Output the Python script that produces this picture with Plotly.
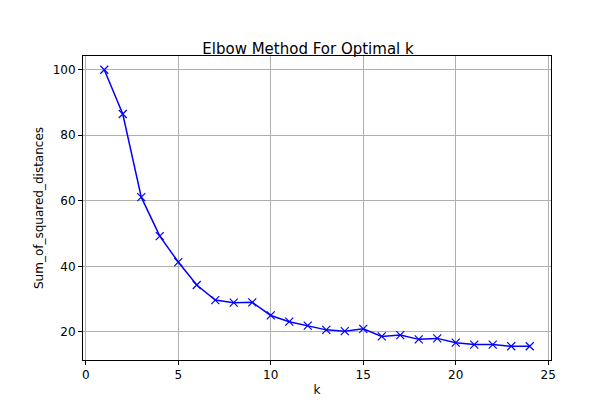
import plotly.graph_objects as go

k = list(range(1, 25))
ssd = [100, 86.5, 61.1, 49.2, 41.3, 34.3, 29.7, 28.9, 29.0, 25.0, 23.1, 21.9,
       20.6, 20.2, 20.9, 18.6, 19.0, 17.7, 18.0, 16.7, 16.1, 16.1, 15.6, 15.6]

fig = go.Figure(go.Scatter(x=k, y=ssd, mode="lines+markers",
                           line=dict(color="blue", width=1.5),
                           marker=dict(symbol="x-thin", size=8, line=dict(color="blue", width=1.2), color="blue")))
ax = dict(showgrid=True, gridcolor="#b0b0b0", gridwidth=1, showline=True, mirror=True,
          linecolor="black", linewidth=1, ticks="outside", ticklen=4, tickcolor="black",
          zeroline=False, tickfont=dict(size=12, color="black"), automargin=False)
fig.update_layout(
    width=600, height=400, margin=dict(l=75, r=57, t=48, b=48, autoexpand=False),
    paper_bgcolor="white", plot_bgcolor="white",
    font=dict(family="DejaVu Sans", color="black"),
    title=dict(text="Elbow Method For Optimal k", x=0.5, xanchor="center", y=0.885, yanchor="bottom",
               font=dict(size=15), automargin=False),
    xaxis=dict(ax, range=[-0.15, 25.15], tickvals=[0, 5, 10, 15, 20, 25],
               title=dict(text="k", font=dict(size=12), standoff=4)),
    yaxis=dict(ax, range=[11.4, 104.2], tickvals=[20, 40, 60, 80, 100],
               title=dict(text="Sum_of_squared_distances", font=dict(size=12), standoff=6)),
    showlegend=False,
)
fig.write_html("out.html")
